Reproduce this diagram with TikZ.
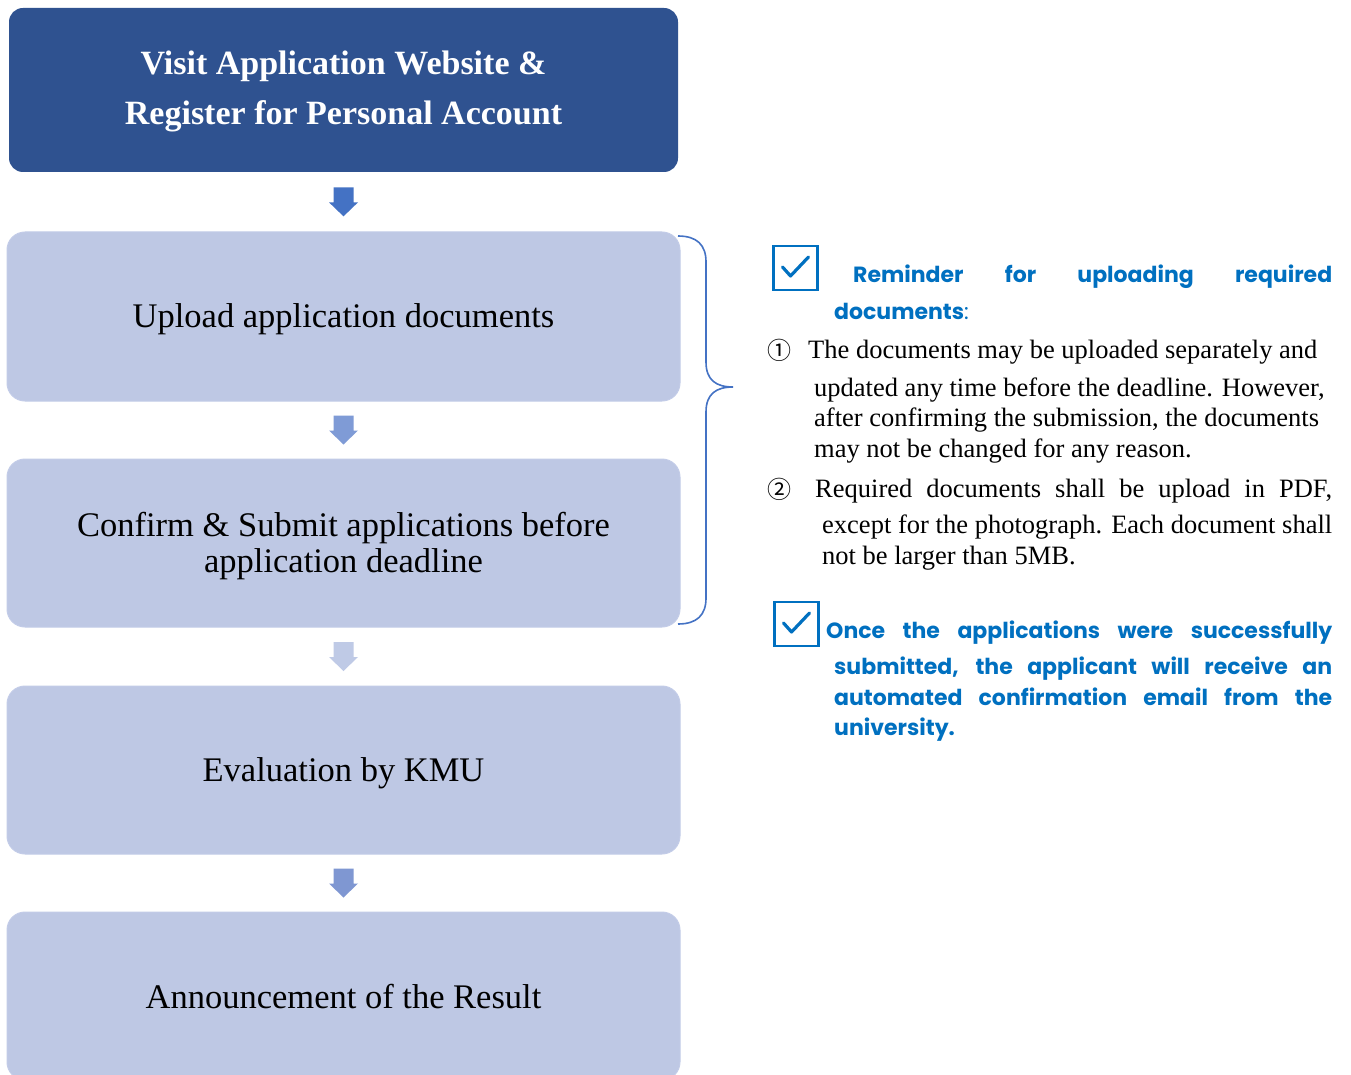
\documentclass[tikz,border=0pt]{standalone}
\usepackage{fontspec}
\setmainfont{Liberation Serif}
\newfontfamily\headfont{Poppins}
\newfontfamily\symfont{Noto Sans CJK JP}
\usetikzlibrary{calc}
\definecolor{darkbox}{HTML}{2F5290}
\definecolor{lightbox}{HTML}{BEC8E4}
\definecolor{lightedge}{HTML}{C3CCE8}
\definecolor{arrA}{HTML}{4472C4}
\definecolor{arrB}{HTML}{7F9BD6}
\definecolor{arrC}{HTML}{BFCAE6}
\definecolor{arrD}{HTML}{7F97D2}
\definecolor{braceblue}{HTML}{4472C4}
\definecolor{headblue}{HTML}{0070C0}
\tikzset{
  topbox/.style={rounded corners=14pt, fill=darkbox, draw=none, minimum width=669pt, minimum height=164pt, inner sep=0pt},
  toptext/.style={align=center, text=white, inner sep=0pt, font=\bfseries\fontsize{34}{50}\selectfont},
  stepbox/.style={rounded corners=18pt, fill=lightbox, draw=lightedge, line width=1pt, minimum width=673pt,
    minimum height=168pt, inner sep=0pt},
  steptext/.style={align=center, text=black, inner sep=0pt, font=\fontsize{34.5}{36}\selectfont},
  note/.style={anchor=base west, inner sep=0pt, text=black, font=\fontsize{26.5}{31}\selectfont},
  numsym/.style={anchor=base west, inner sep=0pt, text=black, font=\symfont\fontsize{24}{28}\selectfont},
  head/.style={anchor=base west, inner sep=0pt, text=headblue, font=\headfont\bfseries\fontsize{22}{31}\selectfont},
  checkbox/.style={draw=headblue, line width=2.8pt, minimum size=44pt, inner sep=0pt},
  checkmark/.style={draw=headblue, line width=3.2pt, line cap=round, line join=round},
  bracepath/.style={draw=braceblue, line width=1.6pt},
}
\newcommand\blockarrow[2]{%
  \fill[#2] ($(#1)+(-10,-14.5)$) -- ($(#1)+(10,-14.5)$) -- ($(#1)+(10,0.5)$) -- ($(#1)+(14.5,0.5)$)
    -- ($(#1)+(0,14.5)$) -- ($(#1)+(-14.5,0.5)$) -- ($(#1)+(-10,0.5)$) -- cycle;}
\begin{document}
\begin{tikzpicture}[x=1pt,y=-1pt]
\clip (0,0) rectangle (1351,1075);
\fill[white] (0,0) rectangle (1351,1075);
% flow boxes
\node[topbox] (b1) at (343.5,90) {};
\node[toptext] (t1) at ($(b1.center)+(0,1.5)$) {Visit Application Website \&\\Register for Personal Account};
\node[stepbox, minimum height=169pt] (b2) at (343.5,316.5) {};
\node[steptext] (t2) at ($(b2.center)+(0,3)$) {Upload application documents};
\node[stepbox] (b3) at (343.5,543) {};
\node[steptext] (t3) at ($(b3.center)+(0,3.5)$) {Confirm \& Submit applications before\\application deadline};
\node[stepbox] (b4) at (343.5,770) {};
\node[steptext] (t4) at ($(b4.center)+(0,3)$) {Evaluation by KMU};
\node[stepbox] (b5) at (343.5,996) {};
\node[steptext] (t5) at ($(b5.center)+(0,1)$) {Announcement of the Result};
% block arrows
\coordinate (a1) at ($(b1.south)!0.5!(b2.north)$);
\coordinate (a2) at ($(b2.south)!0.5!(b3.north)$);
\coordinate (a3) at ($(b3.south)!0.5!(b4.north)$);
\coordinate (a4) at ($(b4.south)!0.5!(b5.north)$);
\blockarrow{a1}{arrA}
\blockarrow{a2}{arrB}
\blockarrow{a3}{arrC}
\blockarrow{a4}{arrD}
% brace
\coordinate (brtop) at (678,236);
\coordinate (brtip) at (733,387);
\coordinate (brbot) at (678,624);
\draw[bracepath] (brtop) .. controls (697,236) and (706,245) .. (706,262) -- (706,362)
  .. controls (706,380) and (716,387) .. (brtip)
  .. controls (716,387) and (706,394) .. (706,412) -- (706,598)
  .. controls (706,615) and (697,624) .. (brbot);
% checkbox 1
\node[checkbox] (cb1) at (795.5,268) {};
\draw[checkmark] ($(cb1.center)+(-13,-1)$) -- ($(cb1.center)+(-5,8)$) -- ($(cb1.center)+(13,-11)$);
\node[head] (h1) at (853,283) {\makebox[479pt][s]{Reminder for uploading required}};
\node[head] (h2) at (834,319) {documents{\mdseries:}};
% item 1
\node[numsym] (n1) at (767,359) {①};
\node[note] (p1a) at (808,358) {The documents may be uploaded separately and};
\node[note] (p1b) at (814,396) {updated any time before the deadline. However,};
\node[note] (p1c) at (814,426) {after confirming the submission, the documents};
\node[note] (p1d) at (814,457) {may not be changed for any reason.};
% item 2
\node[numsym] (n2) at (767,498) {②};
\node[note] (p2a) at (815,497) {\makebox[517pt][s]{Required documents shall be upload in PDF,}};
\node[note] (p2b) at (822,533) {\makebox[510pt][s]{except for the photograph. Each document shall}};
\node[note] (p2c) at (822,564) {not be larger than 5MB.};
% checkbox 2
\node[checkbox] (cb2) at (796.5,624) {};
\draw[checkmark] ($(cb2.center)+(-13,-1)$) -- ($(cb2.center)+(-5,8)$) -- ($(cb2.center)+(13,-11)$);
\node[head] (o1) at (826,638) {\makebox[506pt][s]{Once the applications were successfully}};
\node[head] (o2) at (834,674) {\makebox[498pt][s]{submitted, the applicant will receive an}};
\node[head] (o3) at (834,705) {\makebox[498pt][s]{automated confirmation email from the}};
\node[head] (o4) at (834,735) {university.};
\end{tikzpicture}
\end{document}
